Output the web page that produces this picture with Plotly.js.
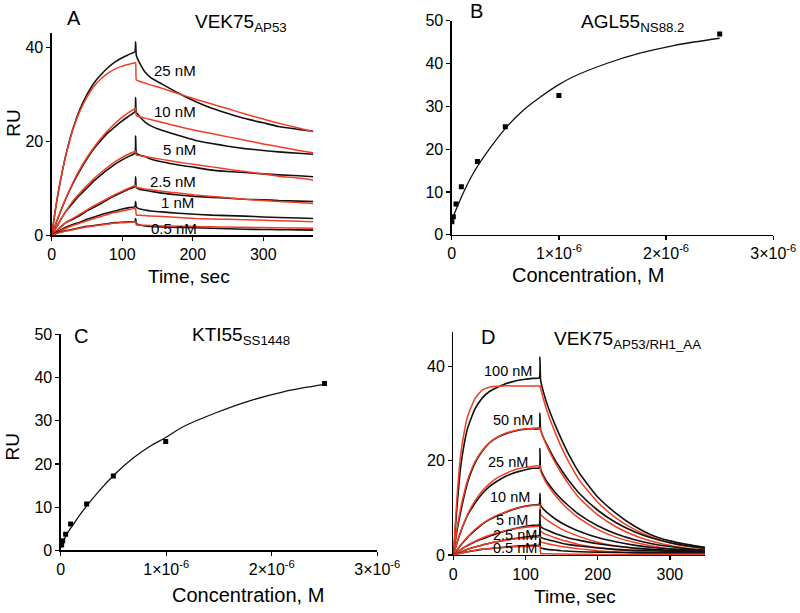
<!DOCTYPE html>
<html><head><meta charset="utf-8">
<script src="https://cdn.plot.ly/plotly-3.0.1.min.js"></script>
<style>html,body{margin:0;padding:0;background:#fff}#chart{width:800px;height:613px}</style>
</head><body><div id="chart"></div>
<script>
// ---------- Panel A: VEK75 AP53 sensorgrams ----------
const tA = [0,5,10,20,30,40,50,60,70,80,90,100,110,118,119,120,122,125,132,140,156,180,203,227,250,274,300,322,350,371];
const concA = ['25 nM','10 nM','5 nM','2.5 nM','1 nM','0.5 nM'];
const A_obs_25 = [0,5.2,9.7,17.1,22.7,26.9,30.0,32.5,34.3,35.8,37.0,37.9,38.6,39.2,41.3,38.4,37.6,36.7,34.9,33.7,32.3,30.3,28.6,27.1,26.0,24.9,24.0,23.2,22.6,22.2];
const A_fit_25 = [0,5.3,9.8,17.0,22.5,26.5,29.5,31.8,33.4,34.6,35.5,36.1,36.5,36.8,36.8,33.1,33.0,32.8,32.5,32.1,31.4,30.2,29.1,28.0,27.0,25.9,24.8,23.9,22.9,22.1];
const A_obs_10 = [0,2.1,4.1,7.8,11.0,13.8,16.3,18.5,20.3,21.9,23.2,24.4,25.5,26.4,29.4,26.2,25.9,25.3,24.2,23.4,22.4,21.3,20.3,19.6,19.0,18.5,18.1,17.8,17.5,17.3];
const A_fit_10 = [0,2.1,4.1,7.9,11.2,14.1,16.6,18.8,20.7,22.4,23.9,25.2,26.3,27.0,27.1,25.5,25.4,25.3,25.0,24.7,24.1,23.2,22.4,21.7,21.0,20.3,19.5,18.9,18.1,17.6];
const A_obs_5 = [0,1.3,2.6,5.1,6.9,8.6,10.1,11.6,12.9,14.1,15.2,16.1,16.9,17.5,21.2,17.6,17.3,17.1,16.8,16.3,15.7,15.0,14.5,13.9,13.6,13.4,13.1,12.9,12.7,12.5];
const A_fit_5 = [0,1.3,2.6,5.1,7.3,9.0,10.6,12.1,13.4,14.6,15.7,16.6,17.4,17.9,18.0,17.1,17.05,17.0,16.8,16.6,16.2,15.6,15.1,14.6,14.1,13.6,13.1,12.6,12.2,11.8];
const A_obs_2p5 = [0,0.7,1.4,2.7,3.4,4.2,5.2,6.0,6.8,7.7,8.5,9.2,9.9,10.4,12.5,10.2,10.0,9.8,9.6,9.4,9.0,8.6,8.3,8.1,7.9,7.7,7.6,7.4,7.3,7.2];
const A_fit_2p5 = [0,0.7,1.4,2.7,3.6,4.5,5.4,6.3,7.1,7.9,8.7,9.4,10.1,10.6,10.7,10.2,10.17,10.1,9.9,9.7,9.4,9.0,8.6,8.3,8.0,7.7,7.4,7.2,7.0,6.8];
const A_obs_1 = [0,0.5,0.9,1.7,2.3,2.8,3.4,3.9,4.4,4.8,5.2,5.6,5.9,6.1,7.2,6.0,5.8,5.6,5.4,5.2,5.0,4.7,4.5,4.3,4.2,4.1,3.9,3.8,3.7,3.6];
const A_fit_1 = [0,0.4,0.8,1.5,2.1,2.6,3.1,3.6,4.0,4.5,4.9,5.2,5.5,5.75,5.8,4.3,4.29,4.27,4.2,4.1,4.0,3.8,3.6,3.5,3.4,3.3,3.2,3.1,3.0,2.9];
const A_obs_0p5 = [0,0.3,0.6,1.0,1.3,1.6,1.9,2.1,2.3,2.5,2.7,2.8,2.9,2.9,3.6,2.6,2.3,2.2,2.0,1.9,1.8,1.7,1.6,1.5,1.4,1.3,1.25,1.2,1.15,1.1];
const A_fit_0p5 = [0,0.3,0.5,0.9,1.2,1.5,1.8,2.0,2.2,2.4,2.6,2.7,2.8,2.9,2.9,2.2,2.19,2.18,2.15,2.1,2.0,1.95,1.9,1.8,1.75,1.7,1.65,1.6,1.55,1.5];
const A_labelT = [175,175,180.6,172.5,179,173.3];
const A_labelRU = [35.1,26.5,18.4,11.4,6.95,1.5];

// ---------- Panel B: AGL55 NS88.2 steady state ----------
const concB = [0.002e-6,0.015e-6,0.04e-6,0.09e-6,0.24e-6,0.5e-6,1.0e-6,2.5e-6];
const ruB = [3.0,4.2,7.2,11.2,17.1,25.2,32.5,46.9];
const fitB_x = [0,0.046e-6,0.109e-6,0.20e-6,0.357e-6,0.513e-6,0.668e-6,0.824e-6,0.995e-6,1.134e-6,1.445e-6,1.756e-6,2.07e-6,2.5e-6];
const fitB_y = [3.4,6.2,9.8,14.3,20.2,25.2,29.1,32.1,35.0,36.9,40.0,42.4,44.2,45.9];

// ---------- Panel C: KTI55 SS1448 steady state ----------
const concC = [0.009e-6,0.019e-6,0.047e-6,0.094e-6,0.246e-6,0.499e-6,0.995e-6,2.5e-6];
const ruC = [1.2,2.2,3.7,6.1,10.7,17.2,25.2,38.6];
const fitC_x = [0,0.057e-6,0.136e-6,0.215e-6,0.373e-6,0.53e-6,0.69e-6,0.846e-6,0.995e-6,1.16e-6,1.478e-6,1.79e-6,2.11e-6,2.5e-6];
const fitC_y = [0.6,3.7,6.6,9.3,14.0,18.0,21.4,24.1,26.1,28.6,31.9,34.6,36.7,38.4];

// ---------- Panel D: VEK75 AP53/RH1_AA sensorgrams ----------
const tD = [0,5,10,15,20,30,40,50,60,70,80,90,100,110,119,120,121,125,130,140,150,160,175,200,225,250,275,300,325,349];
const concD = ['100 nM','50 nM','25 nM','10 nM','5 nM','2.5 nM','0.5 nM'];
const D_obs_100 = [0,10,18.5,23.5,27,31,33.3,34.7,35.5,36.2,36.7,37.1,37.3,37.5,37.6,42.0,37.0,34.5,32.0,28.0,24.5,21.3,17.3,12.3,8.9,6.2,4.2,3.0,2.2,1.6];
const D_fit_100 = [0,12,21,26,29.5,33.2,35.0,35.6,35.8,35.9,35.9,35.9,35.9,35.9,35.9,35.9,35.3,33.0,30.5,26.4,22.8,19.7,15.8,11.2,7.9,5.5,3.8,2.6,1.8,1.3];
const D_obs_50 = [0,5,9,12.5,15.5,19.5,22,23.8,24.9,25.6,26.1,26.5,26.7,26.8,26.8,30.1,26.5,24.9,23.3,20.4,18.0,15.8,13.0,9.5,6.9,5.0,3.6,2.6,1.9,1.4];
const D_fit_50 = [0,5.5,9.8,13.2,16,19.8,22.2,23.8,24.9,25.7,26.2,26.6,26.8,26.9,27.0,27.0,26.5,24.8,23.0,19.9,17.3,15.0,12.0,8.5,6.0,4.2,2.9,2.0,1.4,1.0];
const D_obs_25 = [0,2.5,4.8,6.8,8.5,11,13,14.5,15.6,16.5,17.2,17.7,18.1,18.4,18.5,22.6,18.2,16.8,15.5,13.5,11.8,10.4,8.5,6.2,4.5,3.3,2.4,1.8,1.3,1.0];
const D_fit_25 = [0,2.6,4.9,6.9,8.7,11.5,13.6,15.1,16.3,17.1,17.8,18.3,18.6,18.8,19.0,19.0,17.8,16.4,15.0,12.9,11.1,9.6,7.7,5.4,3.8,2.7,1.9,1.3,0.9,0.7];
const D_obs_10 = [0,1,2,2.9,3.8,5.2,6.5,7.5,8.3,8.9,9.5,10,10.4,10.6,10.8,13.1,10.5,9.7,9.0,7.8,6.8,6.0,5.0,3.7,2.8,2.1,1.6,1.3,1.1,0.9];
const D_fit_10 = [0,1.1,2.1,3,3.9,5.4,6.6,7.6,8.4,9.0,9.6,10.0,10.3,10.5,10.6,10.6,8.6,8.0,7.4,6.4,5.5,4.8,3.9,2.7,1.9,1.4,1.0,0.7,0.5,0.4];
const D_obs_5 = [0,0.6,1.1,1.6,2,2.8,3.4,4,4.5,5,5.4,5.8,6.1,6.3,6.4,9.6,6.0,5.6,5.3,4.6,4.1,3.6,3.1,2.4,1.9,1.5,1.2,1.0,0.9,0.8];
const D_fit_5 = [0,0.6,1.1,1.6,2.1,2.9,3.6,4.2,4.7,5.1,5.4,5.7,5.9,6.0,6.1,6.1,5.0,4.6,4.3,3.7,3.2,2.8,2.2,1.6,1.1,0.8,0.6,0.4,0.3,0.2];
const D_obs_2p5 = [0,0.3,0.6,0.9,1.2,1.7,2.1,2.5,2.8,3.1,3.4,3.6,3.8,4.0,4.1,6.4,3.8,3.5,3.3,2.9,2.5,2.2,1.9,1.5,1.2,1.0,0.9,0.8,0.75,0.7];
const D_fit_2p5 = [0,0.3,0.6,0.9,1.2,1.7,2.1,2.5,2.8,3.1,3.3,3.5,3.6,3.7,3.8,3.8,2.8,2.6,2.4,2.1,1.8,1.6,1.3,0.9,0.65,0.45,0.35,0.25,0.2,0.15];
const D_obs_0p5 = [0,0.2,0.4,0.55,0.7,0.95,1.2,1.35,1.5,1.65,1.8,1.9,2.0,2.05,2.1,3.5,1.5,1.35,1.2,1.05,0.9,0.8,0.7,0.6,0.55,0.5,0.5,0.5,0.5,0.5];
const D_fit_0p5 = [0,0.2,0.4,0.55,0.7,1.0,1.2,1.35,1.5,1.6,1.7,1.75,1.8,1.85,1.9,1.9,0.3,0.28,0.26,0.23,0.2,0.18,0.15,0.12,0.1,0.08,0.07,0.06,0.05,0.05];
const D_labelT = [76.2,83,76,78.5,81,85.5,85.5];
const D_labelRU = [39.1,28.7,19.7,12.25,7.5,4.3,1.5];

// ---------- Tick labels ----------
const concTickVals = [0,1e-6,2e-6,3e-6];
const concTickText = ['0','1×10<sup>-6</sup>','2×10<sup>-6</sup>','3×10<sup>-6</sup>'];

// ---------- build ----------
const FONT = 'Liberation Sans, Arial, Helvetica, sans-serif';
const BLACK = '#111111', RED = '#f23d22';
const traces = [];
function sensor(t, obs, fit, xa, ya, name){
  traces.push({x:t, y:obs, xaxis:xa, yaxis:ya, type:'scatter', mode:'lines', name:name+' data',
    line:{color:BLACK, width:1.6, shape:'spline', smoothing:0.5}, hoverinfo:'skip'});
  traces.push({x:t, y:fit, xaxis:xa, yaxis:ya, type:'scatter', mode:'lines', name:name+' fit',
    line:{color:RED, width:1.5, shape:'spline', smoothing:0.5}, hoverinfo:'skip'});
}
const Aobs=[A_obs_25,A_obs_10,A_obs_5,A_obs_2p5,A_obs_1,A_obs_0p5];
const Afit=[A_fit_25,A_fit_10,A_fit_5,A_fit_2p5,A_fit_1,A_fit_0p5];
Aobs.forEach((o,i)=>sensor(tA,o,Afit[i],'x','y',concA[i]));
const Dobs=[D_obs_100,D_obs_50,D_obs_25,D_obs_10,D_obs_5,D_obs_2p5,D_obs_0p5];
const Dfit=[D_fit_100,D_fit_50,D_fit_25,D_fit_10,D_fit_5,D_fit_2p5,D_fit_0p5];
Dobs.forEach((o,i)=>sensor(tD,o,Dfit[i],'x4','y4',concD[i]));

traces.push({x:fitB_x, y:fitB_y, xaxis:'x2', yaxis:'y2', mode:'lines', line:{color:BLACK,width:1.3,shape:'spline'}, name:'B fit'});
traces.push({x:concB, y:ruB, xaxis:'x2', yaxis:'y2', mode:'markers', marker:{symbol:'square',size:5,color:'#000'}, name:'B data'});
traces.push({x:fitC_x, y:fitC_y, xaxis:'x3', yaxis:'y3', mode:'lines', line:{color:BLACK,width:1.3,shape:'spline'}, name:'C fit'});
traces.push({x:concC, y:ruC, xaxis:'x3', yaxis:'y3', mode:'markers', marker:{symbol:'square',size:5,color:'#000'}, name:'C data'});

const W=800, H=613;
const fx = p => p/W, fy = p => 1 - p/H;
function axis(dom, anchor, range, tickvals, ticktext){
  const a = {domain:dom, anchor:anchor, range:range, showline:true, linecolor:'#000', linewidth:1.3,
    ticks:'outside', ticklen:4, tickwidth:1.2, tickcolor:'#000', showgrid:false, zeroline:false,
    tickfont:{family:FONT, size:16, color:'#000'}, fixedrange:true, tickvals:tickvals};
  if (ticktext) a.ticktext = ticktext;
  return a;
}
const layout = {
  width:W, height:H, margin:{l:0,r:0,t:0,b:0}, paper_bgcolor:'#fff', plot_bgcolor:'#fff', showlegend:false,
  font:{family:FONT, color:'#000'},
  xaxis: axis([fx(51.7),fx(313.3)],'y',[0,371],[0,100,200,300]),
  yaxis: axis([fy(235.3),fy(33.3)],'x',[0,43.1],[0,20,40]),
  xaxis2: axis([fx(451.7),fx(773.3)],'y2',[0,3e-6],concTickVals,concTickText),
  yaxis2: axis([fy(234.7),fy(20.7)],'x2',[0,50],[0,10,20,30,40,50]),
  xaxis3: axis([fx(60.7),fx(377.3)],'y3',[0,3e-6],concTickVals,concTickText),
  yaxis3: axis([fy(550.3),fy(334.3)],'x3',[0,50],[0,10,20,30,40,50]),
  xaxis4: axis([fx(453.3),fx(705)],'y4',[0,348.6],[0,100,200,300]),
  yaxis4: axis([fy(555),fy(331.7)],'x4',[0,47.4],[0,20,40]),
  annotations: []
};
function pann(text, px, py, size, xanchor, extra){
  layout.annotations.push(Object.assign({text:text, xref:'paper', yref:'paper', x:fx(px), y:fy(py),
    xanchor:xanchor||'center', yanchor:'middle', showarrow:false, font:{family:FONT,size:size,color:'#000'}}, extra||{}));
}
// panel letters and titles
pann('A',74,18,20); pann('VEK75<sub>AP53</sub>',193,23,19,'left');
pann('B',476,11,20); pann('AGL55<sub>NS88.2</sub>',579,23,19,'left');
pann('C',80.7,336,20); pann('KTI55<sub>SS1448</sub>',190,336,19,'left');
pann('D',488.3,337,20); pann('VEK75<sub>AP53/RH1_AA</sub>',551.7,340,19,'left');
// axis titles
pann('RU',12.7,123,19,'center',{textangle:-90});
pann('Time, sec',189.2,276,19);
pann('Concentration, M',588.3,275,20);
pann('RU',12.7,446.7,19,'center',{textangle:-90});
pann('Concentration, M',247.5,595,20);
pann('Time, sec',575,596.7,19);
// concentration labels
concA.forEach((c,i)=>layout.annotations.push({text:c, xref:'x', yref:'y', x:A_labelT[i], y:A_labelRU[i],
  showarrow:false, xanchor:'center', yanchor:'middle', font:{family:FONT,size:15,color:'#000'}}));
concD.forEach((c,i)=>layout.annotations.push({text:c, xref:'x4', yref:'y4', x:D_labelT[i], y:D_labelRU[i],
  showarrow:false, xanchor:'center', yanchor:'middle', font:{family:FONT,size:14.5,color:'#000'}}));

Plotly.newPlot('chart', traces, layout, {staticPlot:true, displayModeBar:false});
</script></body></html>
